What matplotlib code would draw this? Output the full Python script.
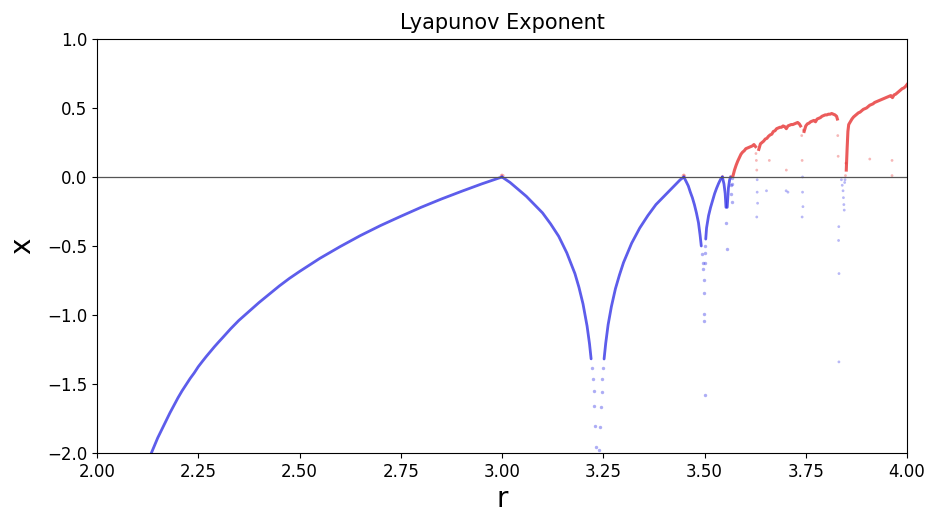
import matplotlib
matplotlib.use("Agg")
import matplotlib.pyplot as plt
import numpy as np

# ---- periodic region (blue curve): r values and Lyapunov exponents
r_period1 = [2.13, 2.14, 2.15, 2.16, 2.17, 2.18, 2.19, 2.20, 2.21, 2.22, 2.23, 2.24, 2.25,
             2.26, 2.27, 2.28, 2.29, 2.30, 2.31, 2.33, 2.35, 2.375, 2.40, 2.425, 2.45,
             2.475, 2.50, 2.55, 2.60, 2.65, 2.70, 2.75, 2.80, 2.85, 2.90, 2.95, 3.00]
lam_period1 = [-2.03, -1.96, -1.89, -1.83, -1.77, -1.71, -1.655, -1.60, -1.55, -1.505,
               -1.46, -1.42, -1.375, -1.337, -1.30, -1.265, -1.23, -1.197, -1.165, -1.10,
               -1.04, -0.975, -0.91, -0.85, -0.79, -0.735, -0.685, -0.59, -0.505, -0.425,
               -0.352, -0.285, -0.22, -0.16, -0.104, -0.05, 0.0]

r_period2_left = [3.00, 3.02, 3.04, 3.06, 3.08, 3.10, 3.12, 3.14, 3.16, 3.18, 3.19, 3.20,
                  3.21, 3.216, 3.220]
lam_period2_left = [0.0, -0.04, -0.09, -0.14, -0.20, -0.26, -0.34, -0.43, -0.55, -0.70,
                    -0.80, -0.92, -1.08, -1.208, -1.318]
r_period2_right = [3.252, 3.256, 3.262, 3.27, 3.28, 3.29, 3.30, 3.32, 3.34, 3.36, 3.38,
                   3.40, 3.42, 3.44, 3.449]
lam_period2_right = [-1.319, -1.206, -1.07, -0.94, -0.81, -0.71, -0.62, -0.48, -0.37,
                     -0.28, -0.20, -0.14, -0.08, -0.02, 0.0]

r_period4_left = [3.449, 3.455, 3.46, 3.465, 3.47, 3.475, 3.48, 3.485, 3.489, 3.492]
lam_period4_left = [0.0, -0.035, -0.065, -0.11, -0.15, -0.20, -0.26, -0.33, -0.42, -0.50]
r_period4_right = [3.503, 3.505, 3.51, 3.515, 3.52, 3.525, 3.53, 3.535, 3.54, 3.544]
lam_period4_right = [-0.45, -0.37, -0.28, -0.22, -0.17, -0.12, -0.08, -0.045, -0.015, 0.0]

r_period8_left = [3.544, 3.548, 3.551, 3.553]
lam_period8_left = [0.0, -0.05, -0.12, -0.22]
r_period8_right = [3.556, 3.559, 3.562, 3.5644]
lam_period8_right = [-0.22, -0.08, -0.02, 0.0]

# ---- dips of the periodic windows drawn as separate points
r_dip = [3.222, 3.224, 3.226, 3.228, 3.230, 3.232,
         3.240, 3.242, 3.244, 3.246, 3.248, 3.250,
         3.494, 3.4955, 3.4965, 3.4975, 3.498, 3.4985, 3.499, 3.5005, 3.500, 3.501, 3.502,
         3.554, 3.5545, 3.5655, 3.5665, 3.5672, 3.568, 3.569]
lam_dip = [-1.385, -1.461, -1.551, -1.662, -1.804, -1.96,
           -1.98, -1.814, -1.669, -1.556, -1.464, -1.386,
           -0.56, -0.62, -0.67, -0.75, -0.84, -0.99, -1.04, -1.58, -0.62, -0.55, -0.50,
           -0.33, -0.52, -0.06, -0.12, -0.18, -0.05, -0.01]

# ---- chaotic region (red band), split at the periodic windows
r_chaos_a = [3.570, 3.574, 3.578, 3.582, 3.586, 3.590, 3.594, 3.598, 3.602, 3.606, 3.610,
             3.614, 3.618, 3.622, 3.626]
lam_chaos_a = [0.005, 0.05, 0.085, 0.115, 0.14, 0.165, 0.18, 0.19, 0.205, 0.21, 0.215,
               0.22, 0.225, 0.235, 0.22]

r_chaos_b = [3.634, 3.638, 3.642, 3.646, 3.650, 3.654, 3.658, 3.662, 3.666, 3.670, 3.674,
             3.678, 3.682, 3.686, 3.690, 3.694, 3.698, 3.702, 3.706, 3.710, 3.714, 3.718,
             3.722, 3.726, 3.730, 3.734, 3.737]
lam_chaos_b = [0.20, 0.24, 0.25, 0.26, 0.275, 0.28, 0.295, 0.305, 0.31, 0.33, 0.335, 0.35,
               0.355, 0.36, 0.36, 0.37, 0.365, 0.35, 0.37, 0.375, 0.38, 0.38, 0.385, 0.39,
               0.395, 0.385, 0.37]

r_chaos_c = [3.746, 3.750, 3.754, 3.758, 3.762, 3.766, 3.770, 3.774, 3.778, 3.782, 3.786,
             3.790, 3.794, 3.798, 3.802, 3.806, 3.810, 3.814, 3.818, 3.822, 3.826, 3.828]
lam_chaos_c = [0.33, 0.37, 0.385, 0.39, 0.40, 0.405, 0.41, 0.40, 0.42, 0.425, 0.43, 0.44,
               0.445, 0.45, 0.45, 0.455, 0.455, 0.46, 0.455, 0.45, 0.44, 0.42]

r_chaos_d = [3.850, 3.852, 3.854, 3.856, 3.860, 3.864, 3.868, 3.872, 3.876, 3.880, 3.884,
             3.888, 3.892, 3.896, 3.900, 3.904, 3.908, 3.912, 3.916, 3.920, 3.924, 3.928,
             3.932, 3.936, 3.940, 3.944, 3.948, 3.952, 3.956, 3.960, 3.964, 3.968, 3.972,
             3.976, 3.980, 3.984, 3.988, 3.992, 3.996, 4.000]
lam_chaos_d = [0.05, 0.20, 0.33, 0.38, 0.40, 0.42, 0.435, 0.445, 0.455, 0.465, 0.47, 0.48,
               0.49, 0.495, 0.50, 0.51, 0.52, 0.525, 0.53, 0.54, 0.545, 0.55, 0.555, 0.56,
               0.565, 0.57, 0.575, 0.58, 0.585, 0.59, 0.575, 0.595, 0.60, 0.61, 0.62, 0.63,
               0.64, 0.645, 0.655, 0.67]

# ---- isolated points (windows, touches of zero, outliers)
r_dots = [2.998, 3.0, 3.003, 3.447, 3.449, 3.451, 3.5445, 3.5645,
          3.627, 3.628, 3.629, 3.630, 3.630, 3.631, 3.629,
          3.653, 3.660, 3.7015, 3.702, 3.706,
          3.744, 3.740, 3.741, 3.742, 3.742, 3.743, 3.741,
          3.829, 3.830, 3.8315, 3.831, 3.832, 3.8318,
          3.838, 3.840, 3.842, 3.843, 3.844, 3.845, 3.846, 3.847, 3.848, 3.849,
          3.908, 3.963, 3.963]
lam_dots = [0.01, 0.015, 0.01, 0.01, 0.015, 0.008, 0.005, 0.005,
            0.17, 0.12, 0.05, -0.02, -0.11, -0.19, -0.29,
            -0.10, 0.12, -0.10, 0.05, -0.11,
            0.34, 0.30, 0.12, 0.0, -0.11, -0.215, -0.29,
            0.30, 0.15, -0.36, -0.46, -0.70, -1.34,
            -0.02, -0.06, -0.10, -0.15, -0.20, -0.24, -0.04, -0.02, 0.01, 0.10,
            0.13, 0.12, 0.01]

BLUE = '#3434e6'
RED = '#e63232'

fig = plt.figure(figsize=(9.30, 5.13), dpi=100)
ax = fig.add_axes([0.1043, 0.117, 0.8710, 0.807])

for rr, ll in [(r_period1, lam_period1), (r_period2_left, lam_period2_left),
               (r_period2_right, lam_period2_right), (r_period4_left, lam_period4_left),
               (r_period4_right, lam_period4_right), (r_period8_left, lam_period8_left),
               (r_period8_right, lam_period8_right)]:
    ax.plot(rr, ll, color=BLUE, lw=2.0, alpha=0.8, solid_capstyle='round')

ax.scatter(r_dip, lam_dip, s=6, color=BLUE, alpha=0.4, linewidths=0)

for rr, ll in [(r_chaos_a, lam_chaos_a), (r_chaos_b, lam_chaos_b),
               (r_chaos_c, lam_chaos_c), (r_chaos_d, lam_chaos_d)]:
    ax.plot(rr, ll, color=RED, lw=2.2, alpha=0.8)

rd = np.array(r_dots)
ld = np.array(lam_dots)
cols = [RED if v > 0 else BLUE for v in ld]
ax.scatter(rd, ld, s=4, c=cols, alpha=0.35, linewidths=0)

ax.axhline(0, color='#555555', lw=0.9)

ax.set_xlim(2.0, 4.0)
ax.set_ylim(-2.0, 1.0)
ax.set_xticks([2.0, 2.25, 2.5, 2.75, 3.0, 3.25, 3.5, 3.75, 4.0])
ax.set_yticks([-2.0, -1.5, -1.0, -0.5, 0.0, 0.5, 1.0])
ax.tick_params(labelsize=12)
ax.set_title('Lyapunov Exponent', fontsize=15, pad=7)
ax.set_xlabel('r', fontsize=20, labelpad=3)
ax.set_ylabel('x', fontsize=20, labelpad=8)

fig.savefig('out.png', dpi=100)
